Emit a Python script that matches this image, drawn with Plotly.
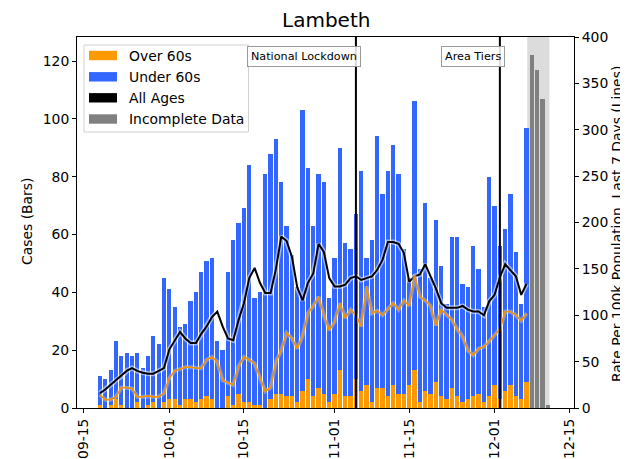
import pandas as pd
import plotly.graph_objects as go

# ---------------- data ----------------
dates = pd.date_range("2020-09-18", "2020-12-07", freq="D")
over60 = [1, 0, 1, 3, 1, 0, 0, 2, 0, 1, 2, 0, 2, 3, 3,
          1, 3, 3, 2, 3, 4, 3, 0, 0, 4, 1, 5, 2, 2,
          1, 1, 0, 3, 5, 5, 4, 4, 2, 6, 10, 4, 7, 5,
          2, 5, 13, 4, 4, 10, 6, 8, 2, 7, 7, 4, 8, 5,
          5, 8, 13, 2, 6, 5, 9, 4, 3, 7, 4, 2, 3, 4,
          5, 2, 4, 8, 3, 6, 8, 4, 3, 9]
under60 = [10, 10, 12, 20, 17, 19, 18, 17, 14, 17, 23, 22, 43, 38, 32,
           27, 26, 34, 38, 44, 47, 49, 23, 20, 43, 57, 59, 67, 82,
           37, 39, 81, 85, 88, 73, 59, 49, 40, 97, 73, 59, 74, 73,
           36, 47, 77, 53, 51, 57, 76, 44, 56, 87, 67, 78, 83, 76,
           50, 37, 93, 46, 65, 40, 56, 45, 33, 52, 55, 41, 39, 52,
           43, 33, 76, 62, 53, 56, 66, 50, 33, 88]
rate_all = [16, 20, 25, 30, 34, 40, 43, 40, 38, 37, 37, 40, 43, 63, 72,
            82, 75, 70, 70, 80, 88, 98, 104, 88, 75, 73, 95, 113, 140,
            151, 135, 124, 124, 150, 185, 180, 163, 130, 116, 135, 145, 177, 168,
            140, 131, 131, 133, 140, 142, 138, 140, 142, 149, 160, 179, 179, 177,
            167, 136, 142, 144, 155, 142, 129, 113, 108, 108, 108, 110, 106, 104,
            104, 100, 115, 122, 141, 155, 149, 142, 122, 134]
rate_over60 = [14, 9, 9, 12, 22, 22, 21, 12, 12, 13, 12, 12, 16, 32, 40,
               42, 44, 44, 43, 43, 52, 55, 50, 30, 27, 25, 45, 55, 52,
               48, 32, 18, 22, 50, 62, 81, 75, 64, 78, 102, 110, 120, 100,
               84, 93, 113, 97, 106, 100, 88, 131, 102, 105, 100, 107, 113, 106,
               116, 110, 143, 120, 116, 110, 89, 106, 100, 95, 85, 77, 62, 57,
               64, 66, 72, 78, 85, 104, 104, 100, 94, 102]
incomplete_dates = pd.date_range("2020-12-08", "2020-12-11", freq="D")
incomplete_vals = [122, 117, 107, 1]

events = [("National Lockdown", "2020-11-05"), ("Area Tiers", "2020-12-02")]
shade_start = pd.Timestamp("2020-12-07") + pd.Timedelta(hours=3)
shade_end = pd.Timestamp("2020-12-11") + pd.Timedelta(hours=7)

xtick_vals = ["2020-09-15", "2020-10-01", "2020-10-15", "2020-11-01",
              "2020-11-15", "2020-12-01", "2020-12-15"]
xtick_text = ["09-15", "10-01", "10-15", "11-01", "11-15", "12-01", "12-15"]

ORANGE = "#FF9900"
BLUE = "#3366FF"
GREY = "#808080"
FONT = "DejaVu Sans"

# page body has an 8px default margin: the figure starts at (8, 8)
OFF = 8
PAGE_W, PAGE_H = 628, 459
W, H = PAGE_W - OFF, PAGE_H - OFF
L, R, T, B = 77, 574, 37, 408   # plot area in page pixels


def px(x):
    return (x - L) / (R - L)


def py(y):
    return (B - y) / (B - T)


day_ms = 86400000
fig = go.Figure()
fig.add_trace(go.Bar(x=dates, y=over60, marker=dict(color=ORANGE, line=dict(width=0)),
                     width=0.8 * day_ms, name="Over 60s", showlegend=False))
fig.add_trace(go.Bar(x=dates, y=under60, marker=dict(color=BLUE, line=dict(width=0)),
                     width=0.8 * day_ms, name="Under 60s", showlegend=False))
fig.add_trace(go.Bar(x=incomplete_dates, y=incomplete_vals, marker=dict(color=GREY, line=dict(width=0)),
                     width=0.8 * day_ms, name="Incomplete Data", showlegend=False))

# halos then lines
for vals, col, hw, ha, lw in [(rate_all, "black", 5, 0.5, 2.0),
                              (rate_over60, "#F29100", 4, 0.3, 1.8)]:
    fig.add_trace(go.Scatter(x=dates, y=vals, yaxis="y2", mode="lines",
                             line=dict(color=f"rgba(255,255,255,{ha})", width=hw),
                             hoverinfo="skip", showlegend=False))
    fig.add_trace(go.Scatter(x=dates, y=vals, yaxis="y2", mode="lines",
                             line=dict(color=col, width=lw), showlegend=False))

shapes = [dict(type="rect", xref="x", yref="paper", x0=shade_start, x1=shade_end,
               y0=0, y1=1, fillcolor="#dcdcdc", line=dict(width=0), layer="below")]
annotations = []
for label, d in events:
    shapes.append(dict(type="line", xref="x", yref="paper", x0=d, x1=d, y0=0, y1=1,
                       line=dict(color="black", width=2)))
    annotations.append(dict(x=d, y=py(56), xref="x", yref="paper", text=label,
                            showarrow=False, xanchor="right", yanchor="middle", xshift=5,
                            font=dict(family=FONT, size=11.2, color="black"),
                            bgcolor="rgba(255,255,255,0.85)", bordercolor="#9a9a9a",
                            borderwidth=1, borderpad=3))

# manual legend
shapes.append(dict(type="rect", xref="paper", yref="paper", x0=px(84), x1=px(248.5),
                   y0=py(132), y1=py(45), fillcolor="rgba(255,255,255,0.85)",
                   line=dict(color="#d0d0d0", width=1)))
legend_items = [("Over 60s", ORANGE, 55.5), ("Under 60s", BLUE, 76.8),
                ("All Ages", "black", 97.8), ("Incomplete Data", GREY, 119)]
for text, col, yc in legend_items:
    shapes.append(dict(type="rect", xref="paper", yref="paper", x0=px(89), x1=px(117),
                       y0=py(yc + 4.7), y1=py(yc - 4.7), fillcolor=col, line=dict(width=0)))
    annotations.append(dict(x=px(126.5), y=py(yc), xref="paper", yref="paper", text=text,
                            showarrow=False, xanchor="left", yanchor="middle",
                            font=dict(family=FONT, size=13.9, color="black")))

# axis titles and chart title
annotations.append(dict(x=px(27), y=py(222), xref="paper", yref="paper", text="Cases (Bars)",
                        showarrow=False, textangle=-90, xanchor="center", yanchor="middle",
                        font=dict(family=FONT, size=13.9, color="black")))
annotations.append(dict(x=px(617), y=py(224), xref="paper", yref="paper",
                        text="Rate Per 100k Population, Last 7 Days (Lines)",
                        showarrow=False, textangle=-90, xanchor="center", yanchor="middle",
                        font=dict(family=FONT, size=13.9, color="black")))
annotations.append(dict(x=px(325.5), y=py(20), xref="paper", yref="paper", text="Lambeth",
                        showarrow=False, xanchor="center", yanchor="middle",
                        font=dict(family=FONT, size=20, color="black")))

x0 = pd.Timestamp("2020-09-15") - pd.Timedelta(days=1.31)
x1 = pd.Timestamp("2020-12-15") + pd.Timedelta(days=0.9)

fig.update_layout(
    width=W, height=H,
    margin=dict(l=L - OFF, r=PAGE_W - R, t=T - OFF, b=PAGE_H - B, autoexpand=False),
    barmode="stack", bargap=0,
    plot_bgcolor="white", paper_bgcolor="white",
    font=dict(family=FONT, size=13.9, color="black"),
    xaxis=dict(type="date", range=[x0, x1], tickvals=xtick_vals, ticktext=xtick_text,
               tickangle=-90, ticks="outside", ticklen=4, tickwidth=1, tickcolor="black",
               showline=True, linecolor="black", linewidth=1, mirror=True, automargin=False,
               showgrid=False, zeroline=False, tickfont=dict(size=13.9)),
    yaxis=dict(range=[0, 128.3], tickvals=[0, 20, 40, 60, 80, 100, 120],
               ticks="outside", ticklen=4, tickwidth=1, tickcolor="black", automargin=False,
               showline=True, linecolor="black", linewidth=1, showgrid=False, zeroline=False),
    yaxis2=dict(range=[0, 400], tickvals=list(range(0, 401, 50)), overlaying="y", side="right",
                ticks="outside", ticklen=4, tickwidth=1, tickcolor="black", automargin=False,
                showline=True, linecolor="black", linewidth=1, showgrid=False, zeroline=False),
    shapes=shapes, annotations=annotations,
)

fig.write_html("out.html")
